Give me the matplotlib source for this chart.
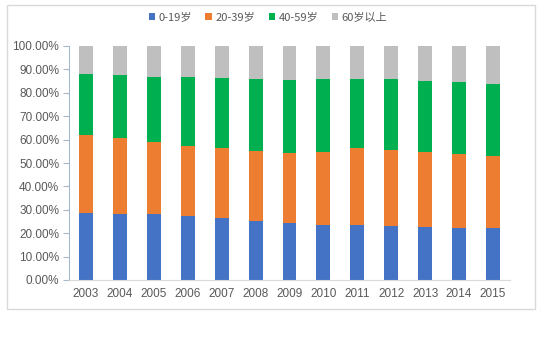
import matplotlib
matplotlib.use("Agg")
import matplotlib.pyplot as plt
from matplotlib.patches import Rectangle
from matplotlib.ticker import FuncFormatter
import numpy as np

# ---------------------------------
# DATA (share of population by age group)
# ---------------------------------

years = ["2003", "2004", "2005", "2006", "2007", "2008", "2009",
         "2010", "2011", "2012", "2013", "2014", "2015"]

age_0_19 = [28.7, 28.0, 28.2, 27.3, 26.3, 25.1, 24.2, 23.6, 23.6, 23.0, 22.6, 22.3, 22.2]
age_20_39 = [33.4, 32.7, 30.8, 30.0, 30.1, 30.0, 29.9, 31.1, 32.9, 32.5, 32.1, 31.5, 30.8]
age_40_59 = [25.9, 27.0, 27.9, 29.4, 29.9, 30.8, 31.4, 31.0, 29.5, 30.2, 30.5, 30.7, 30.8]
age_60_up = [12.0, 12.3, 13.1, 13.3, 13.7, 14.1, 14.5, 14.3, 14.0, 14.3, 14.8, 15.5, 16.2]

labels = ["0-19岁", "20-39岁", "40-59岁", "60岁以上"]
colors = ["#4472C4", "#ED7D31", "#00B050", "#BFBFBF"]

plt.rcParams["font.family"] = ["Liberation Sans", "Noto Sans CJK SC", "DejaVu Sans"]

# ---------------------------------
# CREATE GRAPH
# ---------------------------------

fig = plt.figure(figsize=(5.44, 3.37), dpi=100)
ax = fig.add_axes([69 / 544, 1 - 280 / 337, (510 - 69) / 544, (280 - 46) / 337])

x = np.arange(len(years))
bottom = np.zeros(len(years))
for vals, lab, col in zip([age_0_19, age_20_39, age_40_59, age_60_up], labels, colors):
    v = np.array(vals) / 100.0
    ax.bar(x, v, width=0.41, bottom=bottom, color=col, label=lab, zorder=2)
    bottom += v

ax.set_xlim(-0.5, len(years) - 0.5)
ax.set_ylim(0, 1.0)
ax.set_yticks(np.arange(0, 1.01, 0.1))
ax.yaxis.set_major_formatter(FuncFormatter(lambda v, p: f"{v * 100:.2f}%"))
ax.set_xticks(x)
ax.set_xticklabels(years)

for s in ["top", "right"]:
    ax.spines[s].set_visible(False)
ax.spines["left"].set_color("#A9B9CC")
ax.spines["bottom"].set_color("#D9D9D9")
ax.tick_params(axis="y", colors="#A9B9CC", labelcolor="#595959", labelsize=8.5,
               length=4, direction="out", pad=3)
ax.tick_params(axis="x", length=0, labelcolor="#595959", labelsize=8.5, pad=6)

ax.legend(loc="center", bbox_to_anchor=(268 / 544, 1 - 17 / 337),
          bbox_transform=fig.transFigure, ncol=4, frameon=False,
          fontsize=8, handlelength=0.6, handleheight=0.6, handletextpad=0.3,
          columnspacing=1.2, labelcolor="#595959",
          prop={"family": ["Noto Sans CJK SC", "DejaVu Sans"], "size": 8})

# chart border
fig.patches.append(Rectangle((7 / 544, 1 - 309 / 337), 528 / 544, 304 / 337,
                             transform=fig.transFigure, fill=False,
                             edgecolor="#D9D9D9", linewidth=1))

plt.savefig("out.png", dpi=100)
